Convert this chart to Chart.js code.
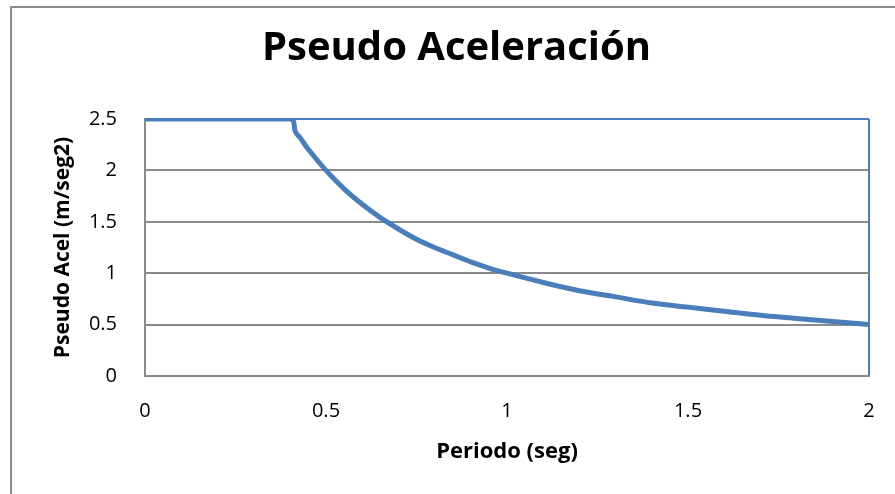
<!DOCTYPE html>
<html lang="es">
<head>
    <meta charset="UTF-8">
    <title>Pseudo Aceleración</title>
    <script src="https://cdn.jsdelivr.net/npm/chart.js"></script>
    <style>
        html, body { margin: 0; padding: 0; background: #fff; overflow: hidden; }
        #wrap { position: relative; width: 895px; height: 494px; }
        /* marco exterior del gráfico (solo se ven borde superior e izquierdo) */
        #marco {
            position: absolute; left: 10px; top: 6px; width: 900px; height: 500px;
            border-left: 2px solid #8c8c8c; border-top: 2px solid #8c8c8c;
        }
        #grafico { position: absolute; left: 0; top: 0; }
    </style>
</head>
<body>
<div id="wrap">
    <div id="marco"></div>
    <canvas id="grafico" width="895" height="494"></canvas>
</div>
<script>
// Periodo (seg) y pseudo aceleración (m/seg2)
const periodos = [0, 0.1, 0.2, 0.3, 0.4, 0.41, 0.415, 0.43, 0.45, 0.5, 0.55, 0.6, 0.65, 0.7, 0.75, 0.8, 0.85, 0.9, 0.95, 1.0,
                  1.1, 1.2, 1.3, 1.4, 1.5, 1.6, 1.7, 1.8, 1.9, 2.0];
const aceleraciones = [2.5, 2.5, 2.5, 2.5, 2.5, 2.48, 2.38, 2.31, 2.21, 2.0, 1.82, 1.67, 1.54, 1.43, 1.33, 1.25, 1.18, 1.11, 1.05, 1.0,
                       0.91, 0.83, 0.77, 0.71, 0.67, 0.63, 0.59, 0.56, 0.53, 0.5];
const ticksX = [0, 0.5, 1, 1.5, 2];
const ticksY = [0, 0.5, 1, 1.5, 2, 2.5];

const azul = '#4a7ebb';
const gris = '#8a8a8a';
const fuente = "'Open Sans', 'Noto Sans', sans-serif";

const puntos = periodos.map((t, i) => ({ x: t, y: aceleraciones[i] }));

new Chart(document.getElementById('grafico'), {
    type: 'line',
    data: {
        datasets: [{
            label: 'Pseudo Aceleración',
            data: puntos,
            borderColor: azul,
            borderWidth: 5,
            pointRadius: 0,
            tension: 0.3,
            fill: false
        }]
    },
    options: {
        responsive: false,
        animation: false,
        layout: { padding: { left: 44, right: 26, top: 0, bottom: 0 } },
        plugins: {
            legend: { display: false },
            tooltip: { enabled: false },
            title: {
                display: true,
                text: 'Pseudo Aceleración',
                color: '#000',
                font: { family: fuente, size: 40, weight: 'bold', lineHeight: 1.2 },
                padding: { top: 25, bottom: 46 }
            }
        },
        scales: {
            x: {
                type: 'linear',
                min: 0, max: 2,
                afterBuildTicks: s => { s.ticks = ticksX.map(v => ({ value: v })); },
                afterFit: s => { s.height = 118; s.paddingRight = 0; },
                ticks: {
                    color: '#000',
                    padding: 23,
                    maxRotation: 0,
                    font: { family: fuente, size: 20 },
                    callback: v => String(v)
                },
                grid: {
                    drawTicks: false,
                    lineWidth: 2,
                    color: ctx => ctx.tick && ctx.tick.value === 2 ? azul : 'rgba(0,0,0,0)'
                },
                border: { display: true, color: gris, width: 2 },
                title: {
                    display: true,
                    text: 'Periodo (seg)',
                    color: '#000',
                    font: { family: fuente, size: 22, weight: 'bold', lineHeight: 1.2 },
                    padding: { top: 0, bottom: 29 }
                }
            },
            y: {
                min: 0, max: 2.5,
                afterBuildTicks: s => { s.ticks = ticksY.map(v => ({ value: v })); },
                afterFit: s => { s.width = 101; },
                ticks: {
                    color: '#000',
                    padding: 28,
                    font: { family: fuente, size: 20 },
                    callback: v => String(v)
                },
                grid: {
                    drawTicks: false,
                    lineWidth: 2,
                    color: ctx => ctx.tick && ctx.tick.value === 2.5 ? azul : gris
                },
                border: { display: true, color: gris, width: 2 },
                title: {
                    display: true,
                    text: 'Pseudo Acel (m/seg2)',
                    color: '#000',
                    font: { family: fuente, size: 21, weight: 'bold', lineHeight: 1.2 },
                    padding: { top: 6, bottom: 0 }
                }
            }
        }
    }
});
</script>
</body>
</html>
